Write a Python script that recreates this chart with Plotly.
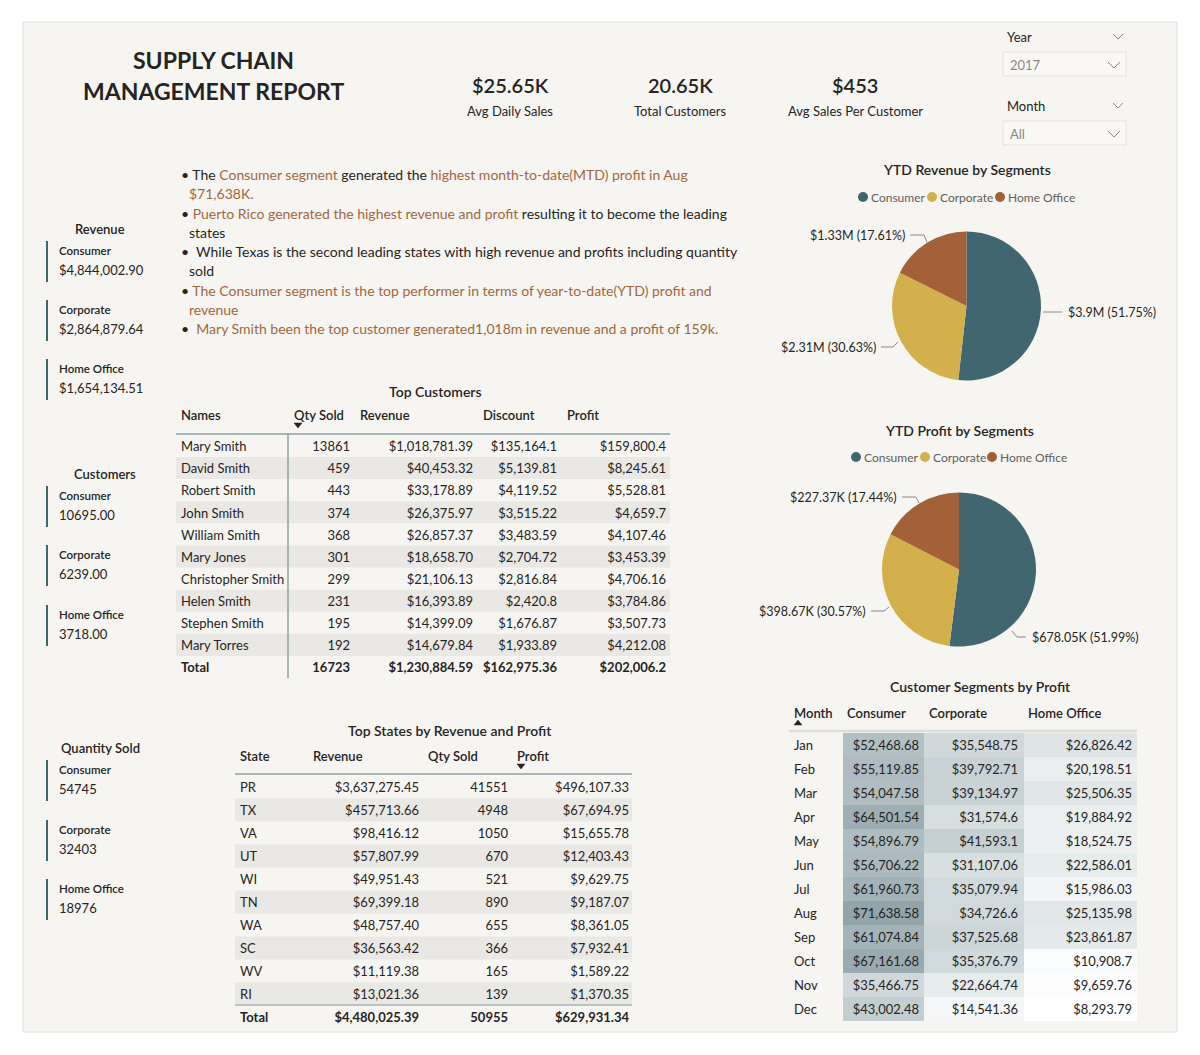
import plotly.graph_objects as go

# ---------------- data ----------------
SEGMENTS = ["Consumer", "Corporate", "Home Office"]
SEG_REVENUE = [4844002.90, 2864879.64, 1654134.51]
SEG_CUSTOMERS = [10695, 6239, 3718]
SEG_QTY = [54745, 32403, 18976]

AVG_DAILY_SALES = 25650
AVG_SALES_PER_CUSTOMER = 453
YEAR_SEL = "2017"
MONTH_SEL = "All"

YTD_REVENUE = [3902500, 2310000, 1328100]
YTD_PROFIT = [678050, 398670, 227370]

CUST_NAMES = ["Mary Smith", "David Smith", "Robert Smith", "John Smith", "William Smith",
              "Mary Jones", "Christopher Smith", "Helen Smith", "Stephen Smith", "Mary Torres"]
CUST_QTY = [13861, 459, 443, 374, 368, 301, 299, 231, 195, 192]
CUST_REVENUE = [1018781.39, 40453.32, 33178.89, 26375.97, 26857.37, 18658.70, 21106.13,
                16393.89, 14399.09, 14679.84]
CUST_DISCOUNT = [135164.1, 5139.81, 4119.52, 3515.22, 3483.59, 2704.72, 2816.84, 2420.8,
                 1676.87, 1933.89]
CUST_PROFIT = [159800.4, 8245.61, 5528.81, 4659.7, 4107.46, 3453.39, 4706.16, 3784.86,
               3507.73, 4212.08]

STATES = ["PR", "TX", "VA", "UT", "WI", "TN", "WA", "SC", "WV", "RI"]
STATE_REVENUE = [3637275.45, 457713.66, 98416.12, 57807.99, 49951.43, 69399.18, 48757.40,
                 36563.42, 11119.38, 13021.36]
STATE_QTY = [41551, 4948, 1050, 670, 521, 890, 655, 366, 165, 139]
STATE_PROFIT = [496107.33, 67694.95, 15655.78, 12403.43, 9629.75, 9187.07, 8361.05, 7932.41,
                1589.22, 1370.35]

MONTHS = ["Jan", "Feb", "Mar", "Apr", "May", "Jun", "Jul", "Aug", "Sep", "Oct", "Nov", "Dec"]
PROFIT_CONSUMER = [52468.68, 55119.85, 54047.58, 64501.54, 54896.79, 56706.22, 61960.73,
                   71638.58, 61074.84, 67161.68, 35466.75, 43002.48]
PROFIT_CORPORATE = [35548.75, 39792.71, 39134.97, 31574.6, 41593.1, 31107.06, 35079.94,
                    34726.6, 37525.68, 35376.79, 22664.74, 14541.36]
PROFIT_HOME_OFFICE = [26826.42, 20198.51, 25506.35, 19884.92, 18524.75, 22586.01, 15986.03,
                      25135.98, 23861.87, 10908.7, 9659.76, 8293.79]

# ---------------- style ----------------
OX, OY = 8, 8              # page body margin offset
W, H = 1192, 1047          # figure size fitting inside the 1200x1055 window
FONT = "Lato"
DARK = "#252423"
GREY = "#605E5C"
BROWN = "#A0673F"
BG = "#F7F5F1"
BAND = "#EAE8E4"
TEAL_BAR = "#41666E"
SEG_COLORS = ["#40666F", "#D4B04C", "#A3613A"]
RULE = "#A9B6B9"
TEXT_DY = 2                # small vertical nudge for table cell text


def money(v, strip=False):
    s = f"{v:,.2f}"
    if strip:
        s = s.rstrip("0").rstrip(".")
    return "$" + s


fig = go.Figure()
shapes = []
annos = []


def label(x, y, text, size=13, color=DARK, weight=400, anchor="left"):
    annos.append(dict(x=x, y=y, xref="x", yref="y", text=text, showarrow=False,
                      xanchor=anchor, yanchor="middle",
                      font=dict(family=FONT, size=size, color=color, weight=weight)))


def rect(x0, y0, x1, y1, fill, line=None, lw=0, layer="below"):
    shapes.append(dict(type="rect", xref="x", yref="y", x0=x0, y0=y0, x1=x1, y1=y1,
                       fillcolor=fill, line=dict(color=line or fill, width=lw), layer=layer))


def hline(x0, x1, y, color, w=1.5):
    shapes.append(dict(type="line", xref="x", yref="y", x0=x0, x1=x1, y0=y, y1=y,
                       line=dict(color=color, width=w)))


def vline(x, y0, y1, color, w=1.5):
    shapes.append(dict(type="line", xref="x", yref="y", x0=x, x1=x, y0=y0, y1=y1,
                       line=dict(color=color, width=w)))


def path(d, color, w=1, fill=None):
    s = dict(type="path", xref="x", yref="y", path=d, line=dict(color=color, width=w))
    if fill:
        s["fillcolor"] = fill
    shapes.append(s)


def text_col(xs, ys, texts, pos, weight=400, size=13, color=DARK):
    fig.add_trace(go.Scatter(x=xs, y=[y + TEXT_DY for y in ys], text=texts, mode="text",
                             textposition=pos,
                             textfont=dict(family=FONT, size=size, color=color, weight=weight),
                             hoverinfo="skip", showlegend=False, cliponaxis=False))


# ---------------- background panel ----------------
rect(23, 22, 1177, 1032, BG, line="#E3E1DD", lw=1)

# ---------------- title & KPIs ----------------
label(213, 60, "SUPPLY CHAIN", size=23, weight=700, anchor="center")
label(213, 91, "MANAGEMENT REPORT", size=23, weight=700, anchor="center")

kpis = [
    (510, f"${AVG_DAILY_SALES/1000:.2f}K", "Avg Daily Sales"),
    (680, f"{sum(SEG_CUSTOMERS)/1000:.2f}K", "Total Customers"),
    (855, f"${AVG_SALES_PER_CUSTOMER:,}", "Avg Sales Per Customer"),
]
for x, v, t in kpis:
    label(x, 85, v, size=20, weight=600, anchor="center")
    label(x, 111, t, size=13, anchor="center")

# slicers
for name, ty, by, val in [("Year", 37, 52, YEAR_SEL), ("Month", 106, 121, MONTH_SEL)]:
    label(1005, ty, name, size=13)
    path(f"M 1113 {ty-3} L 1118 {ty+2} L 1123 {ty-3}", "#8A8886", 1)
    rect(1003, by, 1126, by + 24, "#F9F8F5", line="#E3E1DD", lw=1)
    label(1008, by + 13, val, size=13, color="#8A8886")
    path(f"M 1108 {by+10} L 1114 {by+16} L 1120 {by+10}", "#8A8886", 1)

# ---------------- bullet insights ----------------
B = lambda s: f"<span style='color:{BROWN}'>{s}</span>"
bullets = [
    (174, True, "The " + B("Consumer segment") + " generated the " + B("highest month-to-date(MTD) profit in Aug")),
    (193, False, B("$71,638K.")),
    (213, True, B("Puerto Rico generated the highest revenue and profit") + " resulting it to become the leading"),
    (232, False, "states"),
    (251, True, " While Texas is the second leading states with high revenue and profits including quantity"),
    (270, False, "sold"),
    (290, True, B("The Consumer segment is the top performer in terms of year-to-date(YTD) profit and")),
    (309, False, B("revenue")),
    (328, True, " " + B("Mary Smith been the top customer generated1,018m in revenue and a profit of 159k.")),
]
for y, has_b, txt in bullets:
    if has_b:
        label(179, y, "• " + txt, size=14)
    else:
        label(187, y, txt, size=14)

# ---------------- left KPI cards ----------------
sections = [
    ("Revenue", 100, 229, [money(v) for v in SEG_REVENUE], [241, 300, 359]),
    ("Customers", 105, 474, [f"{v:.2f}" for v in SEG_CUSTOMERS], [486, 545, 605]),
    ("Quantity Sold", 100, 748, [f"{v}" for v in SEG_QTY], [760, 820, 879]),
]
for title, tx, ty, vals, tops in sections:
    label(tx, ty, title, size=13, weight=600, anchor="center")
    for seg, v, top in zip(SEGMENTS, vals, tops):
        vline(47, top, top + 41, TEAL_BAR, 2)
        label(57, top + 9, seg, size=11.5, weight=600)
        label(57, top + 29, v, size=13)

# ---------------- Top Customers table ----------------
label(435, 391, "Top Customers", size=14, weight=600, anchor="center")
for x, h in zip([181, 294, 360, 483, 567], ["Names", "Qty Sold", "Revenue", "Discount", "Profit"]):
    label(x - 2, 415, h, size=13, weight=600)
path("M 294 423 L 302 423 L 298 428 Z", DARK, 0.5, fill=DARK)
n = len(CUST_NAMES)
cy = [446 + 22.1 * i for i in range(n)]
for i in range(1, n, 2):
    rect(176, cy[i] - 11, 670, cy[i] + 11, BAND)
hline(176, 670, 434, RULE, 2)
vline(288, 434, 678, "#8FA1A5", 1.5)
text_col([181] * n, cy, CUST_NAMES, "middle right")
text_col([350] * n, cy, [str(v) for v in CUST_QTY], "middle left")
text_col([473] * n, cy, [money(v) for v in CUST_REVENUE], "middle left")
text_col([557] * n, cy, [money(v, True) for v in CUST_DISCOUNT], "middle left")
text_col([666] * n, cy, [money(v, True) for v in CUST_PROFIT], "middle left")
ty = 667
text_col([181], [ty], ["Total"], "middle right", weight=700)
text_col([350, 473, 557, 666], [ty] * 4,
         [str(sum(CUST_QTY)), money(round(sum(CUST_REVENUE), 2)),
          money(round(sum(CUST_DISCOUNT), 2)), money(round(sum(CUST_PROFIT), 2), True)],
         "middle left", weight=700)

# ---------------- Top States table ----------------
label(450, 730, "Top States by Revenue and Profit", size=14, weight=600, anchor="center")
for x, h in zip([240, 313, 428, 517], ["State", "Revenue", "Qty Sold", "Profit"]):
    label(x - 2, 756, h, size=13, weight=600)
path("M 517 764 L 525 764 L 521 769 Z", DARK, 0.5, fill=DARK)
m = len(STATES)
sy = [787 + 23 * i for i in range(m)]
for i in range(1, m, 2):
    rect(235, sy[i] - 11.5, 632, sy[i] + 11.5, BAND)
hline(235, 632, 774, RULE, 2)
hline(235, 632, 1005, RULE, 1.5)
text_col([240] * m, sy, STATES, "middle right")
text_col([419] * m, sy, [money(v) for v in STATE_REVENUE], "middle left")
text_col([508] * m, sy, [str(v) for v in STATE_QTY], "middle left")
text_col([629] * m, sy, [money(v) for v in STATE_PROFIT], "middle left")
ty = 1017
text_col([240], [ty], ["Total"], "middle right", weight=700)
text_col([419, 508, 629], [ty] * 3,
         [money(round(sum(STATE_REVENUE), 2)), str(sum(STATE_QTY)),
          money(round(sum(STATE_PROFIT), 2))], "middle left", weight=700)

# ---------------- Customer Segments by Profit (heat table) ----------------
label(980, 686, "Customer Segments by Profit", size=14, weight=600, anchor="center")
for x, h in zip([794, 847, 929, 1028], ["Month", "Consumer", "Corporate", "Home Office"]):
    label(x - 2, 713, h, size=13, weight=600)
path("M 794 725 L 802 725 L 798 720 Z", DARK, 0.5, fill=DARK)
cols = [PROFIT_CONSUMER, PROFIT_CORPORATE, PROFIT_HOME_OFFICE]
z = [[c[i] for c in cols] for i in range(len(MONTHS))]
allv = [v for c in cols for v in c]
col_edges = [843, 924, 1024, 1137]
row_edges = [733 + 24 * i for i in range(len(MONTHS) + 1)]
fig.add_trace(go.Heatmap(z=z, x=col_edges, y=row_edges, zmin=min(allv), zmax=max(allv),
                         colorscale=[[0, "#FFFFFF"], [1, "#91A5AB"]], showscale=False,
                         hoverinfo="skip"))
hline(789, 1137, 731, "#DCDCDA", 2.5)
my = [745 + 24 * i for i in range(len(MONTHS))]
text_col([794] * len(MONTHS), my, MONTHS, "middle right")
for xr, c in zip([919, 1018, 1132], cols):
    text_col([xr] * len(MONTHS), my, [money(v, True) for v in c], "middle left")


# ---------------- Pies ----------------
def pie(values, cx, cy_, r, title, ty, leg_y, leg_x, lab_pos, leaders, fmt):
    fig.add_trace(go.Pie(values=values, labels=SEGMENTS, sort=False, direction="clockwise",
                         rotation=0, textinfo="none", hoverinfo="skip", showlegend=False,
                         marker=dict(colors=SEG_COLORS, line=dict(width=0)),
                         domain=dict(x=[(cx - r - OX) / W, (cx + r - OX) / W],
                                     y=[1 - (cy_ + r - OY) / H, 1 - (cy_ - r - OY) / H])))
    label(cx, ty, title, size=14, weight=600, anchor="center")
    for seg, col, lx in zip(SEGMENTS, SEG_COLORS, leg_x):
        shapes.append(dict(type="circle", xref="x", yref="y", x0=lx - 5, x1=lx + 5,
                           y0=leg_y - 5, y1=leg_y + 5, fillcolor=col,
                           line=dict(color=col, width=0)))
        label(lx + 6, leg_y, seg, size=12, color=GREY)
    tot = sum(values)
    for v, (x, y, anc), d in zip(values, lab_pos, leaders):
        label(x, y, f"{fmt(v)} ({v / tot * 100:.2f}%)", size=12.5, anchor=anc)
        path(d, "#8A8886", 1)


def fmt_m(v):
    return "$" + f"{v / 1e6:.2f}".rstrip("0").rstrip(".") + "M"


def fmt_k(v):
    return "$" + f"{v / 1e3:.2f}".rstrip("0").rstrip(".") + "K"


pie(YTD_REVENUE, 966.5, 306, 74.5, "YTD Revenue by Segments", 169, 197, [863, 932, 1000],
    [(1066, 312, "left"), (878, 347, "right"), (907, 235, "right")],
    ["M 1043 312 L 1062 312", "M 898 342 L 893 347 L 881 347", "M 927 242 L 924 235 L 910 235"],
    fmt_m)
pie(YTD_PROFIT, 959, 569.5, 77, "YTD Profit by Segments", 430, 457, [856, 925, 992],
    [(1030, 637, "left"), (868, 611, "right"), (899, 497, "right")],
    ["M 1012 631 L 1017 637 L 1026 637", "M 889 607 L 884 611 L 871 611", "M 919 503 L 916 497 L 902 497"],
    fmt_k)

fig.update_layout(
    width=W, height=H, margin=dict(l=0, r=0, t=0, b=0),
    paper_bgcolor="white", plot_bgcolor="rgba(0,0,0,0)",
    xaxis=dict(range=[OX, OX + W], visible=False, fixedrange=True),
    yaxis=dict(range=[OY + H, OY], visible=False, fixedrange=True),
    showlegend=False, hovermode=False,
    shapes=shapes, annotations=annos,
    font=dict(family=FONT, color=DARK),
)
fig.write_html("out.html")
